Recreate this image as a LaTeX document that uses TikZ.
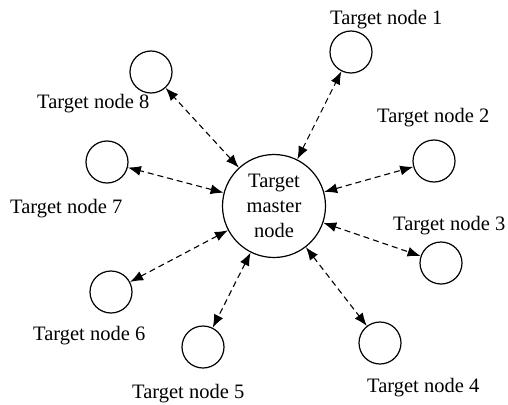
\documentclass[tikz,border=0pt]{standalone}
\usepackage{fontspec}
\setmainfont{Liberation Serif}
\usetikzlibrary{arrows.meta}
\begin{document}
\begin{tikzpicture}[x=1pt,y=-1pt,
  master/.style={circle,draw,line width=1.2pt,minimum size=103pt,inner sep=0pt,align=center,font=\fontsize{20.5}{25}\selectfont},
  target/.style={circle,draw,line width=1.2pt,minimum size=42pt,inner sep=0pt},
  lbl/.style={anchor=base west,inner sep=0pt,font=\fontsize{20.5}{25}\selectfont},
  link/.style={{Latex[length=13pt,width=10pt]}-{Latex[length=13pt,width=10pt]},dash pattern=on 6pt off 4pt,line width=1.1pt}]
\useasboundingbox (0,0) rectangle (508,404);
\node[master] (m) at (274,206) {Target\\master\\node};
\node[target] (n1) at (351,52) {};
\node[target] (n2) at (434,161) {};
\node[target] (n3) at (441,263) {};
\node[target] (n4) at (380,343) {};
\node[target] (n5) at (203,347) {};
\node[target] (n6) at (111,292) {};
\node[target] (n7) at (107,162) {};
\node[target] (n8) at (151,72) {};
\node[lbl] (l1) at (330,25) {Target node 1};
\node[lbl] (l2) at (377,122) {Target node 2};
\node[lbl] (l3) at (393,230) {Target node 3};
\node[lbl] (l4) at (367,392) {Target node 4};
\node[lbl] (l5) at (132,398) {Target node 5};
\node[lbl] (l6) at (33,340) {Target node 6};
\node[lbl] (l7) at (10,213) {Target node 7};
\node[lbl] (l8) at (37,108) {Target node 8};
\foreach \i in {1,...,8} \draw[link] (m) -- (n\i);
\end{tikzpicture}
\end{document}
